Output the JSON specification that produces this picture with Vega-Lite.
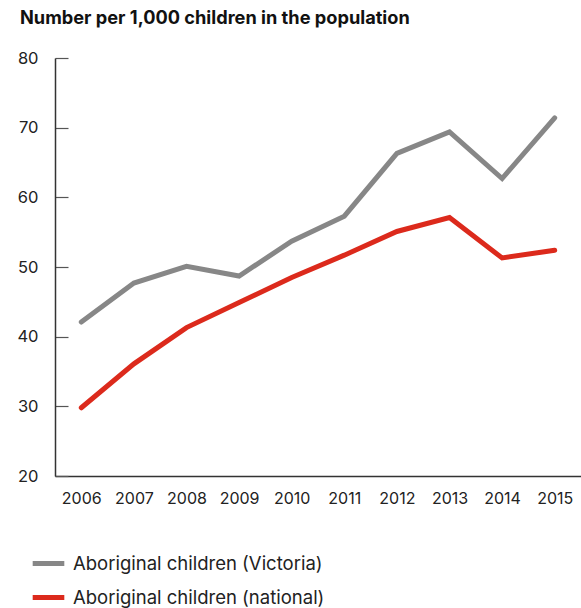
{
  "$schema": "https://vega.github.io/schema/vega-lite/v6.json",
  "width": 526,
  "height": 418,
  "autosize": {"type": "none"},
  "padding": {"left": 55, "top": 58, "right": 0, "bottom": 132},
  "config": {"view": {"stroke": null}},
  "title": {
    "text": "Number per 1,000 children in the population",
    "anchor": "start",
    "frame": "group",
    "dx": -35,
    "offset": 22,
    "font": "Inter",
    "fontSize": 18.2,
    "fontWeight": "bold",
    "color": "#111111"
  },
  "data": {
    "values": [
      {"year": "2006", "series": "Aboriginal children (Victoria)", "value": 42.1},
      {"year": "2007", "series": "Aboriginal children (Victoria)", "value": 47.7},
      {"year": "2008", "series": "Aboriginal children (Victoria)", "value": 50.1},
      {"year": "2009", "series": "Aboriginal children (Victoria)", "value": 48.7},
      {"year": "2010", "series": "Aboriginal children (Victoria)", "value": 53.7},
      {"year": "2011", "series": "Aboriginal children (Victoria)", "value": 57.3},
      {"year": "2012", "series": "Aboriginal children (Victoria)", "value": 66.3},
      {"year": "2013", "series": "Aboriginal children (Victoria)", "value": 69.4},
      {"year": "2014", "series": "Aboriginal children (Victoria)", "value": 62.7},
      {"year": "2015", "series": "Aboriginal children (Victoria)", "value": 71.4},
      {"year": "2006", "series": "Aboriginal children (national)", "value": 29.8},
      {"year": "2007", "series": "Aboriginal children (national)", "value": 36.1},
      {"year": "2008", "series": "Aboriginal children (national)", "value": 41.3},
      {"year": "2009", "series": "Aboriginal children (national)", "value": 44.9},
      {"year": "2010", "series": "Aboriginal children (national)", "value": 48.5},
      {"year": "2011", "series": "Aboriginal children (national)", "value": 51.7},
      {"year": "2012", "series": "Aboriginal children (national)", "value": 55.1},
      {"year": "2013", "series": "Aboriginal children (national)", "value": 57.1},
      {"year": "2014", "series": "Aboriginal children (national)", "value": 51.3},
      {"year": "2015", "series": "Aboriginal children (national)", "value": 52.4}
    ]
  },
  "mark": {"type": "line", "strokeWidth": 5, "strokeCap": "round", "strokeJoin": "miter"},
  "encoding": {
    "x": {
      "field": "year",
      "type": "ordinal",
      "scale": {"type": "point", "padding": 0.5},
      "axis": {
        "title": null,
        "labelAngle": 0,
        "ticks": false,
        "labelPadding": 14,
        "labelFont": "Inter",
        "labelFontSize": 16,
        "labelColor": "#222222",
        "domainColor": "#333333",
        "domainWidth": 1.5
      }
    },
    "y": {
      "field": "value",
      "type": "quantitative",
      "scale": {"domain": [20, 80], "nice": false, "zero": false},
      "axis": {
        "title": null,
        "values": [20, 30, 40, 50, 60, 70, 80],
        "grid": false,
        "tickSize": -13,
        "tickColor": "#555555",
        "tickWidth": 1.2,
        "labelPadding": 30,
        "labelFont": "Inter",
        "labelFontSize": 16.5,
        "labelColor": "#222222",
        "domainColor": "#333333",
        "domainWidth": 1.5
      }
    },
    "color": {
      "field": "series",
      "type": "nominal",
      "sort": ["Aboriginal children (Victoria)", "Aboriginal children (national)"],
      "scale": {
        "domain": ["Aboriginal children (Victoria)", "Aboriginal children (national)"],
        "range": ["#878787", "#dc2a1c"]
      },
      "legend": {
        "title": null,
        "orient": "none",
        "legendX": -25,
        "legendY": 487,
        "direction": "vertical",
        "symbolType": "stroke",
        "symbolSize": 1000,
        "symbolStrokeWidth": 5,
        "labelFont": "Inter",
        "labelFontSize": 18.5,
        "labelLimit": 400,
        "labelColor": "#222222",
        "labelOffset": 6,
        "rowPadding": 5
      }
    }
  }
}
